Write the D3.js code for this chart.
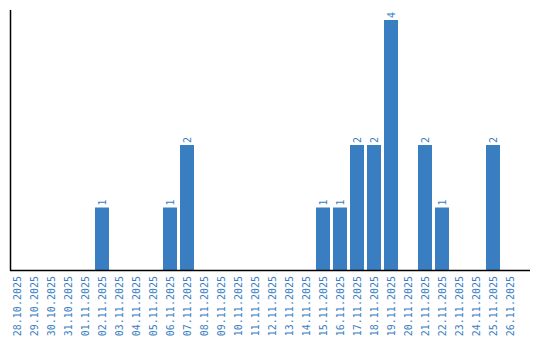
<!DOCTYPE html>
<html><head><meta charset="utf-8">
<script src="https://cdn.jsdelivr.net/npm/d3@7"></script>
<style>body{margin:0;background:#fff}svg{display:block}</style>
</head><body>
<script>
const dates = ["28.10.2025","29.10.2025","30.10.2025","31.10.2025","01.11.2025","02.11.2025","03.11.2025","04.11.2025","05.11.2025","06.11.2025","07.11.2025","08.11.2025","09.11.2025","10.11.2025","11.11.2025","12.11.2025","13.11.2025","14.11.2025","15.11.2025","16.11.2025","17.11.2025","18.11.2025","19.11.2025","20.11.2025","21.11.2025","22.11.2025","23.11.2025","24.11.2025","25.11.2025","26.11.2025"];
const counts = [0,0,0,0,0,1,0,0,0,1,2,0,0,0,0,0,0,0,1,1,2,2,4,0,2,1,0,0,2,0];

const W = 540, H = 340;
const color = "#3a7ec2";
const svg = d3.select("body").append("svg").attr("width", W).attr("height", H);

const x = d3.scaleBand().domain(dates).range([10, 520]).paddingInner(3/17).paddingOuter(3/34).align(0);
const y = d3.scaleLinear().domain([0, d3.max(counts)]).range([270, 20]);

svg.selectAll("rect.bar").data(dates).join("rect")
  .attr("class","bar")
  .attr("x", d => x(d))
  .attr("width", x.bandwidth())
  .attr("y", (d,i) => y(counts[i]))
  .attr("height", (d,i) => y(0) - y(counts[i]))
  .attr("fill", color);

svg.selectAll("text.val").data(dates.filter((d,i)=>counts[i]>0)).join("text")
  .attr("class","val")
  .attr("transform", d => `translate(${x(d)+x.bandwidth()/2},${y(counts[dates.indexOf(d)])-2}) rotate(-90)`)
  .attr("dy","0.35em")
  .attr("font-family","DejaVu Sans Mono, monospace")
  .attr("font-size", 10)
  .attr("fill", color)
  .text(d => counts[dates.indexOf(d)]);

svg.selectAll("text.lab").data(dates).join("text")
  .attr("class","lab")
  .attr("transform", d => `translate(${x(d)+x.bandwidth()/2},276) rotate(-90)`)
  .attr("dy","0.35em")
  .attr("text-anchor","end")
  .attr("font-family","DejaVu Sans Mono, monospace")
  .attr("font-size", 10)
  .attr("fill", color)
  .text(d => d);

// axes lines
svg.append("line").attr("x1",10.5).attr("x2",10.5).attr("y1",10).attr("y2",y(0)+0.5)
  .attr("stroke","#000").attr("stroke-width",1.5);
svg.append("line").attr("x1",10).attr("x2",530).attr("y1",y(0)+0.5).attr("y2",y(0)+0.5)
  .attr("stroke","#000").attr("stroke-width",1.5);
</script>
</body></html>
